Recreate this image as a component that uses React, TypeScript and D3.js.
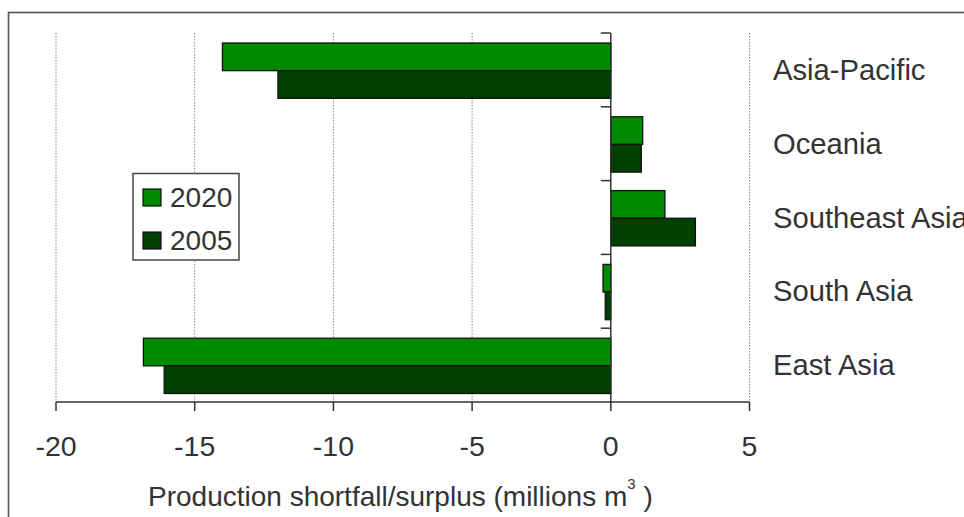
import React from "react";
import * as d3 from "d3";

const categories = ["Asia-Pacific", "Oceania", "Southeast Asia", "South Asia", "East Asia"];
const series = ["2020", "2005"];
const values2020 = [-14, 1.15, 1.95, -0.28, -16.85];
const values2005 = [-12, 1.1, 3.05, -0.2, -16.1];
const xTicks = [-20, -15, -10, -5, 0, 5];
const colors: Record<string, string> = { "2020": "#008a00", "2005": "#004000" };

const W = 964;
const H = 517;
const FONT = "'Liberation Sans', Arial, sans-serif";

export default function App() {
  const x = d3.scaleLinear().domain([-20, 5]).range([56, 749.5]);
  const y = d3.scaleBand<string>().domain(categories).range([33, 402]).padding(0);
  const bw = y.bandwidth();
  const sub = d3.scaleBand<string>().domain(series).range([10, bw - 8.5]).padding(0);
  const data = categories.map((c, i) => ({ c, v: { "2020": values2020[i], "2005": values2005[i] } as Record<string, number> }));
  const x0 = x(0);
  const boundaries = categories.map((c) => y(c) as number);

  return (
    <svg width={W} height={H} style={{ position: "absolute", left: 0, top: 0, background: "#fff" }} fontFamily={FONT}>
      <rect x={8.5} y={12.5} width={W + 20} height={H + 20} fill="none" stroke="#555" strokeWidth={1.6} />
      {xTicks.filter((t) => t !== 0).map((t) => (
        <line key={"g" + t} x1={x(t)} x2={x(t)} y1={33} y2={402} stroke="#888" strokeWidth={1} strokeDasharray="1.5,1.5" />
      ))}
      {data.map((d) =>
        series.map((s) => {
          const v = d.v[s];
          const bx = Math.min(x(v), x0);
          const w = Math.abs(x(v) - x0);
          return (
            <rect
              key={d.c + s}
              x={bx}
              y={(y(d.c) as number) + (sub(s) as number)}
              width={w}
              height={sub.bandwidth()}
              fill={colors[s]}
              stroke="#111"
              strokeWidth={1.3}
            />
          );
        })
      )}
      <line x1={x0} x2={x0} y1={33} y2={402} stroke="#333" strokeWidth={1.5} />
      {boundaries.map((b, i) => (
        <line key={"yt" + i} x1={x0 - 10} x2={x0} y1={b} y2={b} stroke="#333" strokeWidth={1.5} />
      ))}
      <line x1={x(-20)} x2={x(5)} y1={402} y2={402} stroke="#333" strokeWidth={1.5} />
      {xTicks.map((t) => (
        <g key={"xt" + t}>
          <line x1={x(t)} x2={x(t)} y1={402} y2={411} stroke="#333" strokeWidth={1.5} />
          <text x={x(t)} y={456} textAnchor="middle" fontSize={28.5} fill="#333">
            {t}
          </text>
        </g>
      ))}
      {categories.map((c) => (
        <text key={"cl" + c} x={773} y={(y(c) as number) + bw / 2 + 10} fontSize={29.2} fill="#333">
          {c}
        </text>
      ))}
      <text x={148} y={506} fontSize={28} fill="#333">
        Production shortfall/surplus (millions m
        <tspan fontSize={15} dy={-17}>3</tspan>
        <tspan dy={17}> )</tspan>
      </text>
      <rect x={133} y={173.5} width={106} height={86.5} fill="#fff" stroke="#444" strokeWidth={1.5} />
      {series.map((s, i) => (
        <g key={"lg" + s} transform={`translate(143, ${189 + i * 43})`}>
          <rect x={0} y={0} width={18} height={17} fill={colors[s]} stroke="#111" strokeWidth={1.2} />
          <text x={27} y={18} fontSize={28} fill="#333">
            {s}
          </text>
        </g>
      ))}
    </svg>
  );
}
